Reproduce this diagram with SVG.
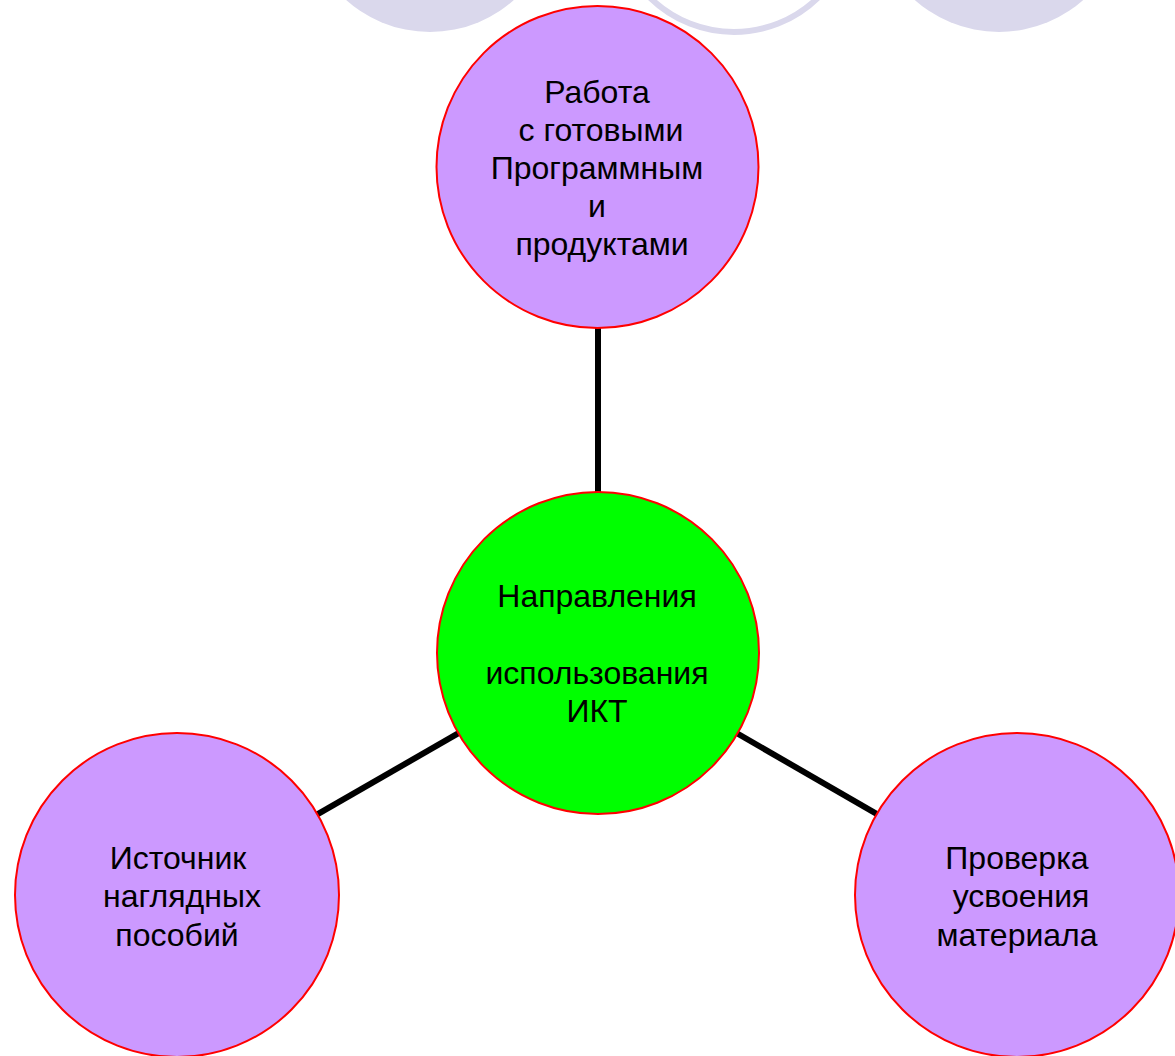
<svg xmlns="http://www.w3.org/2000/svg" width="1175" height="1056" viewBox="0 0 1175 1056">
  <style>
    .bg { fill: #DAD8EC; }
    .ring { fill: none; stroke: #DAD8EC; stroke-width: 6; }
    .node { fill: #CC99FF; stroke: #FF0000; stroke-width: 2; }
    .hub { fill: #00FF00; stroke: #FF0000; stroke-width: 2; }
    .edge { stroke: #000000; stroke-width: 6; fill: none; }
    text { font-family: "Liberation Sans", Arial, sans-serif; font-size: 32px; fill: #000000; text-anchor: middle; }
  </style>
  <rect width="1175" height="1056" fill="#FFFFFF"/>
  <g id="decor">
    <circle class="bg" cx="430" cy="-94" r="126"/>
    <circle class="ring" cx="734" cy="-88" r="120"/>
    <circle class="bg" cx="999" cy="-95" r="127"/>
  </g>
  <g id="connectors">
    <line class="edge" x1="598" y1="653" x2="598" y2="167"/>
    <line class="edge" x1="598" y1="653" x2="177" y2="895"/>
    <line class="edge" x1="598" y1="653" x2="1017" y2="895"/>
  </g>
  <g id="node-top">
    <circle class="node" cx="597.5" cy="167" r="161"/>
    <text x="597" y="103">Работа</text>
    <text x="601" y="141">с готовыми</text>
    <text x="597" y="179">Программным</text>
    <text x="597" y="217">и</text>
    <text x="602" y="255">продуктами</text>
  </g>
  <g id="node-center">
    <circle class="hub" cx="598" cy="653" r="161"/>
    <text x="597" y="607">Направления</text>
    <text x="597" y="684">использования</text>
    <text x="597" y="722">ИКТ</text>
  </g>
  <g id="node-left">
    <circle class="node" cx="177" cy="895" r="162"/>
    <text x="178" y="869">Источник</text>
    <text x="182" y="907">наглядных</text>
    <text x="177" y="946">пособий</text>
  </g>
  <g id="node-right">
    <circle class="node" cx="1017" cy="895" r="162"/>
    <text x="1017" y="869">Проверка</text>
    <text x="1021" y="907">усвоения</text>
    <text x="1017" y="946">материала</text>
  </g>
</svg>
